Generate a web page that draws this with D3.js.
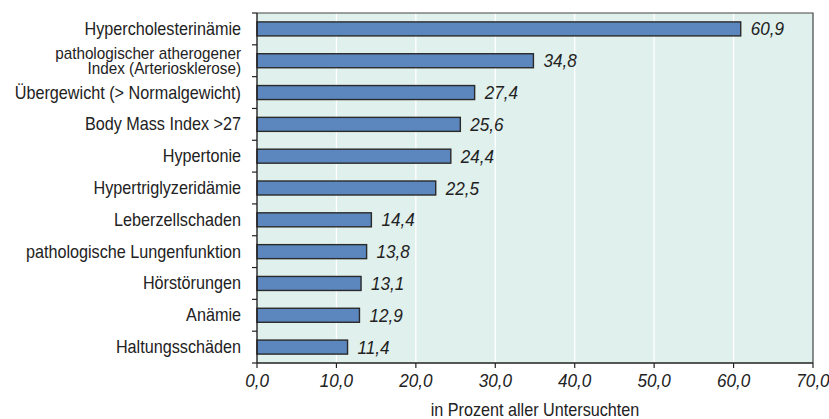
<!DOCTYPE html>
<html><head><meta charset="utf-8">
<script src="https://cdn.jsdelivr.net/npm/d3@7"></script>
<style>
body{margin:0;background:#fff;}
text{font-family:"Liberation Sans",Arial,sans-serif;fill:#222;}
</style></head>
<body><svg id="c" width="829" height="419"></svg>
<script>
const categories = [
  "Hypercholesterinämie",
  "pathologischer atherogener\nIndex (Arteriosklerose)",
  "Übergewicht (> Normalgewicht)",
  "Body Mass Index >27",
  "Hypertonie",
  "Hypertriglyzeridämie",
  "Leberzellschaden",
  "pathologische Lungenfunktion",
  "Hörstörungen",
  "Anämie",
  "Haltungsschäden"
];
const values = [60.9, 34.8, 27.4, 25.6, 24.4, 22.5, 14.4, 13.8, 13.1, 12.9, 11.4];
const xTicks = [0, 10, 20, 30, 40, 50, 60, 70];
const xTitle = "in Prozent aller Untersuchten";

const svg = d3.select("#c");
const m = {left: 257, right: 16, top: 13, bottom: 56};
const W = 829, H = 419;
const NARROW = 0.9; // condensed look for all labels
const x = d3.scaleLinear().domain([0, 70]).range([m.left, W - m.right]);
const y = d3.scaleBand().domain(categories).range([m.top, H - m.bottom]).paddingInner(0.56).paddingOuter(0.28);
const fmt = v => d3.format(".1f")(v).replace(".", ",");

// place a horizontally condensed text at (px, py)
function narrowText(sel, px, py, k = NARROW) {
  return sel.attr("x", 0).attr("y", 0)
    .attr("transform", (d, i) => `translate(${px(d, i)},${py(d, i)}) scale(${typeof k === "function" ? k(d) : k},1)`);
}

// plot background
svg.append("rect").attr("x", x(0)).attr("y", m.top)
  .attr("width", x(70) - x(0)).attr("height", H - m.bottom - m.top)
  .attr("fill", "#e0f0ec");

// vertical grid
svg.append("g").selectAll("line").data(xTicks.slice(1, -1)).join("line")
  .attr("x1", d => x(d)).attr("x2", d => x(d))
  .attr("y1", m.top).attr("y2", H - m.bottom)
  .attr("stroke", "#fff").attr("stroke-width", 1.3);

// frame top/right
svg.append("path")
  .attr("d", `M${x(0)},${m.top}H${x(70)}V${H - m.bottom}`)
  .attr("fill", "none").attr("stroke", "#444").attr("stroke-width", 1.2);

// bars
svg.append("g").selectAll("rect").data(values).join("rect")
  .attr("x", x(0)).attr("y", (d, i) => y(categories[i]))
  .attr("width", d => x(d) - x(0)).attr("height", y.bandwidth())
  .attr("fill", "#5b87be").attr("stroke", "#2a2a2a").attr("stroke-width", 1.4);

// value labels
narrowText(svg.append("g").selectAll("text").data(values).join("text"),
    d => x(d) + 10, (d, i) => y(categories[i]) + y.bandwidth() / 2 + 6.5)
  .attr("font-size", 19).attr("font-style", "italic")
  .text(d => fmt(d));

// y axis
const yAxisG = svg.append("g");
yAxisG.append("line").attr("x1", x(0)).attr("x2", x(0))
  .attr("y1", m.top).attr("y2", H - m.bottom).attr("stroke", "#222").attr("stroke-width", 1.4);
const bounds = d3.range(categories.length + 1).map(i => m.top + i * (H - m.bottom - m.top) / categories.length);
yAxisG.selectAll(".tk").data(bounds).join("line")
  .attr("x1", x(0) - 5).attr("x2", x(0)).attr("y1", d => d).attr("y2", d => d)
  .attr("stroke", "#222").attr("stroke-width", 1.2);
const twoLine = d => d.includes("\n");
narrowText(yAxisG.selectAll(".lbl").data(categories).join("text"),
    () => m.left - 16, d => y(d) + y.bandwidth() / 2, d => twoLine(d) ? 0.955 : NARROW)
  .attr("text-anchor", "end")
  .attr("font-size", d => twoLine(d) ? 16 : 18)
  .each(function(d) {
    const lines = d.split("\n");
    const t = d3.select(this);
    const step = lines.length > 1 ? 15.5 : 0;
    lines.forEach((ln, j) => {
      t.append("tspan").attr("x", 0)
        .attr("y", (j - (lines.length - 1) / 2) * step + 6)
        .text(ln);
    });
  });

// x axis
const xAxisG = svg.append("g");
xAxisG.append("line").attr("x1", x(0)).attr("x2", x(70))
  .attr("y1", H - m.bottom).attr("y2", H - m.bottom).attr("stroke", "#222").attr("stroke-width", 1.4);
xAxisG.selectAll(".tk").data(xTicks).join("line")
  .attr("x1", d => x(d)).attr("x2", d => x(d))
  .attr("y1", H - m.bottom).attr("y2", H - m.bottom + 5)
  .attr("stroke", "#222").attr("stroke-width", 1.2);
narrowText(xAxisG.selectAll(".lbl").data(xTicks).join("text"),
    d => x(d), () => 387)
  .attr("text-anchor", "middle").attr("font-size", 19).attr("font-style", "italic")
  .text(d => fmt(d));

narrowText(svg.append("text").datum(xTitle), () => (x(0) + x(70)) / 2, () => 416)
  .attr("text-anchor", "middle").attr("font-size", 18).text(d => d);
</script></body></html>
